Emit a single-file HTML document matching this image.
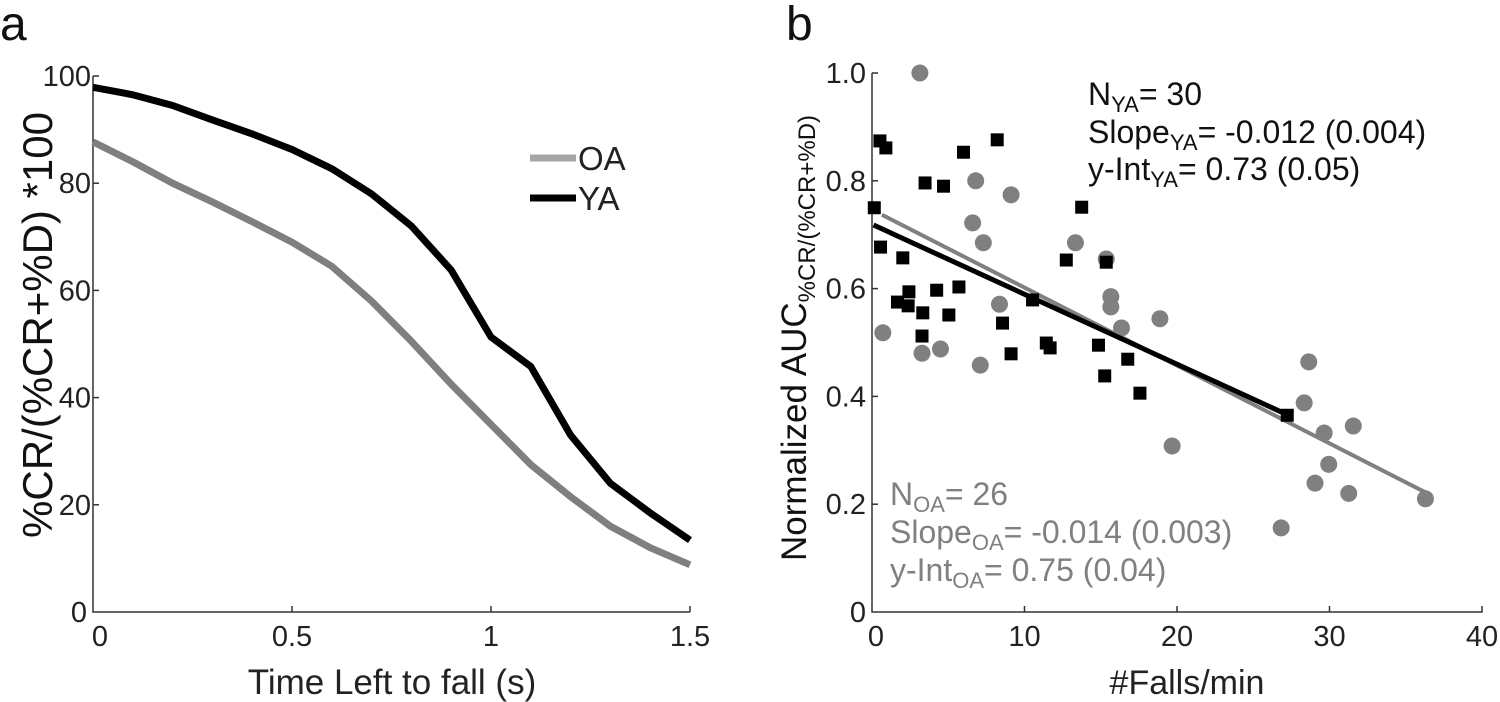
<!DOCTYPE html>
<html><head><meta charset="utf-8"><style>
html,body{margin:0;padding:0;background:#fff;}
svg{display:block;font-family:"Liberation Sans",Arial,sans-serif;}
</style></head><body>
<svg id="fig" width="1500" height="702" viewBox="0 0 1500 702">
<text x="0" y="40" font-size="48" fill="#111">a</text>
<text x="786" y="40" font-size="48" fill="#111">b</text>
<g id="A"></g>
<g id="B"></g>
</svg>
<script>
// Panel A data
const timeVals = [0,0.1,0.2,0.3,0.4,0.5,0.6,0.7,0.8,0.9,1.0,1.1,1.2,1.3,1.4,1.5];
const yaVals = [97.9,96.5,94.5,91.8,89.2,86.3,82.7,78,72,63.8,51.3,45.8,33,24,18.5,13.4];
const oaVals = [87.7,84,80,76.5,72.8,69,64.5,58,50.5,42.5,35,27.5,21.5,16,12,8.8];
const aXTicks = [0,0.5,1,1.5];
const aXTickLabels = ["0","0.5","1","1.5"];
const aYTicks = [20,40,60,80,100];
// Panel B data
const oaFalls = [3.14,0.71,6.8,9.12,6.6,7.3,3.28,4.49,7.1,8.36,13.34,15.36,15.66,15.66,16.36,18.88,19.68,28.64,28.34,29.65,31.56,29.95,29.05,31.26,36.29,26.83];
const oaAUC = [1.0,0.518,0.80,0.774,0.722,0.685,0.48,0.488,0.458,0.571,0.685,0.655,0.585,0.566,0.527,0.544,0.308,0.464,0.388,0.332,0.345,0.274,0.239,0.22,0.21,0.156];
const yaFalls = [0.52,0.91,6.0,8.21,3.48,4.69,0.15,13.75,0.56,2.02,2.42,1.67,2.37,4.24,5.7,3.33,5.04,3.28,8.56,10.53,12.74,15.36,9.12,11.43,11.68,14.85,16.77,15.26,17.57,27.23];
const yaAUC = [0.874,0.861,0.853,0.876,0.796,0.79,0.75,0.751,0.677,0.657,0.594,0.575,0.568,0.597,0.603,0.555,0.551,0.512,0.536,0.579,0.653,0.649,0.479,0.499,0.49,0.495,0.469,0.438,0.406,0.365];
const yaFit = [0.1, 0.718, 27.23, 0.366];
const oaFit = [0.65, 0.737, 36.29, 0.222];
const bXTicks = [0,10,20,30,40];
const bYTicks = [0.2,0.4,0.6,0.8,1.0];
const bYTickLabels = ["0.2","0.4","0.6","0.8","1.0"];

const NS="http://www.w3.org/2000/svg";
function mk(parent,tag,attrs,text){const e=document.createElementNS(NS,tag);for(const k in attrs)e.setAttribute(k,attrs[k]);if(text!==undefined)e.textContent=text;parent.appendChild(e);return e;}
const TF=29;

// ---- Panel A ----
const A=document.getElementById('A');
const ax=v=>93+v/1.5*597, ay=v=>612-v*5.36;
let e;
e=mk(A,'path',{d:`M${ax(0)},${ay(100)} V${ay(0)} H${ax(1.5)}`,stroke:'#333',fill:'none','stroke-width':1.5});


aYTicks.forEach(v=>{
 e=mk(A,'line',{x1:ax(0),x2:ax(0)+6,y1:ay(v),y2:ay(v),stroke:'#333','stroke-width':1.5});
 
 
 e=mk(A,'text',{x:ax(0)-2,y:ay(v)+10,'text-anchor':'end','font-size':TF,fill:'#222'},String(v));
 
 
});
e=mk(A,'text',{x:87,y:622,'text-anchor':'end','font-size':TF,fill:'#222'},'0');


aXTicks.forEach((v,i)=>{
 if(v>0){e=mk(A,'line',{x1:ax(v),x2:ax(v),y1:ay(0),y2:ay(0)-6,stroke:'#333','stroke-width':1.5});
 
 }
 e=mk(A,'text',{x:ax(v)+(i==0?7:0),y:646,'text-anchor':'middle','font-size':TF,fill:'#222'},aXTickLabels[i]);
 
 
});
e=mk(A,'text',{x:392,y:694,'text-anchor':'middle','font-size':35,fill:'#222'},'Time Left to fall (s)');


e=mk(A,'text',{x:0,y:0,'text-anchor':'middle','font-size':42,fill:'#111',transform:'translate(52,325) rotate(-90)'},'%CR/(%CR+%D) *100');


e=mk(A,'polyline',{points:timeVals.map((t,i)=>ax(t)+','+ay(oaVals[i])).join(' '),fill:'none',stroke:'#7f7f7f','stroke-width':7});


e=mk(A,'polyline',{points:timeVals.map((t,i)=>ax(t)+','+ay(yaVals[i])).join(' '),fill:'none',stroke:'#000','stroke-width':7});


e=mk(A,'line',{x1:530,x2:576,y1:158,y2:158,stroke:'#a6a6a6','stroke-width':7});


e=mk(A,'text',{x:578,y:170,'font-size':33,fill:'#222'},'OA');


e=mk(A,'line',{x1:530,x2:576,y1:198,y2:198,stroke:'#000','stroke-width':7});


e=mk(A,'text',{x:578,y:210,'font-size':33,fill:'#222'},'YA');



// ---- Panel B ----
const B=document.getElementById('B');
const bx=v=>872+v*15.25, by=v=>612-v*539;
e=mk(B,'path',{d:`M${bx(0)},${by(1)} V${by(0)} H${bx(40)} v-6`,stroke:'#333',fill:'none','stroke-width':1.5});


bYTicks.forEach((v,i)=>{
 e=mk(B,'line',{x1:bx(0),x2:bx(0)+6,y1:by(v),y2:by(v),stroke:'#333','stroke-width':1.5});
 
 
 e=mk(B,'text',{x:bx(0)-6,y:by(v)+10,'text-anchor':'end','font-size':TF,fill:'#222'},bYTickLabels[i]);
 
 
});
e=mk(B,'text',{x:866,y:622,'text-anchor':'end','font-size':TF,fill:'#222'},'0');


bXTicks.forEach((v,i)=>{
 if(v>0&&v<40){e=mk(B,'line',{x1:bx(v),x2:bx(v),y1:by(0),y2:by(0)-6,stroke:'#333','stroke-width':1.5});
 
 }
 e=mk(B,'text',{x:bx(v)+(i==0?4:0),y:646,'text-anchor':'middle','font-size':TF,fill:'#222'},String(v));
 
 
});
e=mk(B,'text',{x:1187,y:694,'text-anchor':'middle','font-size':34,fill:'#222'},'#Falls/min');


e=mk(B,'text',{x:0,y:0,'text-anchor':'middle','font-size':35,fill:'#111',transform:'translate(806,338) rotate(-90)'});


mk(e,'tspan',{},'Normalized AUC');
mk(e,'tspan',{'font-size':24,dy:9},'%CR/(%CR+%D)');

oaFalls.forEach((f,i)=>{
 e=mk(B,'circle',{cx:bx(f),cy:by(oaAUC[i]),r:8.5,fill:'#808080'});
 
 
});
e=mk(B,'line',{x1:bx(oaFit[0]),y1:by(oaFit[1]),x2:bx(oaFit[2]),y2:by(oaFit[3]),stroke:'#808080','stroke-width':4});


yaFalls.forEach((f,i)=>{
 e=mk(B,'rect',{x:bx(f)-6.5,y:by(yaAUC[i])-6.5,width:13,height:13,fill:'#000'});
 
 
});
e=mk(B,'line',{x1:bx(yaFit[0]),y1:by(yaFit[1]),x2:bx(yaFit[2]),y2:by(yaFit[3]),stroke:'#000','stroke-width':5});



function annot(x,y,main,sub,rest,color,name){
 const t=mk(B,'text',{x:x,y:y,'font-size':32,fill:color});
 
 
 mk(t,'tspan',{},main);mk(t,'tspan',{'font-size':22,dy:7},sub);mk(t,'tspan',{dy:-7},rest);
}
annot(1088,105,'N','YA','= 30','#111','ya-n-annotation');
annot(1088,143,'Slope','YA','= -0.012 (0.004)','#111','ya-slope-annotation');
annot(1088,180,'y-Int','YA','= 0.73 (0.05)','#111','ya-intercept-annotation');
annot(890,505,'N','OA','= 26','#808080','oa-n-annotation');
annot(890,543,'Slope','OA','= -0.014 (0.003)','#808080','oa-slope-annotation');
annot(890,581,'y-Int','OA','= 0.75 (0.04)','#808080','oa-intercept-annotation');
</script>
</body></html>
